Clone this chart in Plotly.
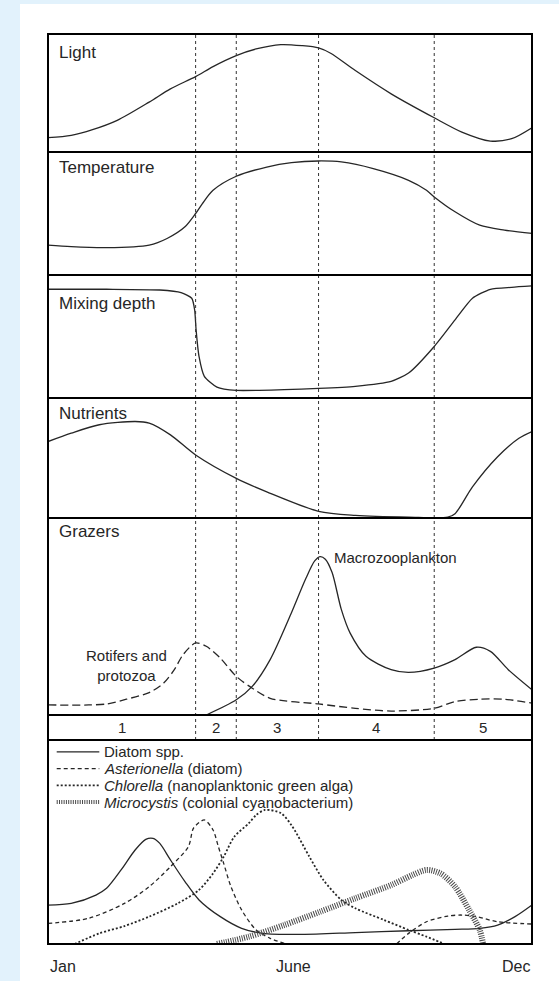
import plotly.graph_objects as go

# ---------------- data (x = % of the year, y = % of panel height) ----------------
light_x = [0, 4.8, 9.2, 14.3, 20.9, 25.3, 30.5, 34.1, 38.9, 43.0, 48.1, 52.5, 55.9, 58.4, 63.5, 70.9, 79.8, 85.5, 91.4, 95.8, 100]
light_y = [12.1, 14.1, 18.9, 26.8, 42.3, 53.5, 63.9, 72.4, 81.7, 87.3, 91.0, 90.1, 88.2, 83.7, 69.0, 49.3, 29.0, 16.9, 9.3, 11.3, 20.6]

temp_x = [0, 4.8, 12.1, 20.9, 24.6, 28.3, 30.5, 31.9, 34.1, 38.9, 45.2, 50.3, 55.9, 60.6, 67.2, 74.5, 78.2, 79.8, 84.1, 89.2, 94.3, 100]
temp_y = [24.3, 23.0, 22.2, 24.3, 29.7, 39.2, 50.0, 58.1, 68.9, 80.3, 87.8, 91.4, 92.7, 91.9, 86.5, 77.0, 68.9, 63.5, 51.4, 40.5, 36.5, 33.8]

mix_x = [0, 12.1, 23.1, 27.5, 29.7, 30.3, 30.6, 31.2, 32.3, 34.9, 38.9, 48.8, 55.9, 63.5, 70.9, 74.5, 79.8, 84.1, 87.7, 91.4, 95.8, 100]
mix_y = [88.4, 88.4, 87.8, 85.7, 81.1, 71.6, 55.4, 33.8, 17.6, 8.9, 6.2, 6.8, 7.8, 9.5, 13.5, 20.3, 41.9, 63.5, 81.1, 88.4, 90.0, 91.1]

nut_x = [0, 4.8, 10.6, 18.0, 20.9, 25.3, 30.5, 38.9, 45.2, 55.9, 63.5, 74.5, 82.6, 84.1, 87.7, 92.9, 97.3, 100]
nut_y = [63.7, 70.7, 77.7, 80.4, 79.1, 69.3, 52.5, 33.0, 21.8, 5.6, 2.2, 0.8, 0.8, 3.6, 26.0, 51.1, 66.5, 72.1]

macro_x = [32.7, 38.9, 42.2, 45.9, 50.3, 53.2, 55.1, 56.2, 57.3, 58.7, 60.6, 62.4, 65.7, 70.9, 74.5, 79.8, 84.1, 88.5, 91.4, 95.1, 100]
macro_y = [0, 7.7, 14.5, 28.1, 51.9, 68.9, 78.2, 80.4, 79.1, 72.3, 53.6, 41.7, 29.8, 23.0, 21.6, 23.8, 28.1, 34.4, 32.3, 23.0, 12.8]

rot_x = [0, 8.4, 12.1, 16.2, 20.9, 23.9, 26.1, 27.9, 30.5, 32.7, 35.6, 38.9, 42.2, 45.9, 55.9, 63.5, 70.9, 79.8, 84.1, 89.2, 94.3, 100]
rot_y = [5.1, 5.1, 5.6, 8.0, 11.4, 16.2, 23.0, 30.6, 36.6, 34.9, 28.9, 19.6, 13.6, 8.5, 5.6, 3.4, 2.0, 3.4, 6.8, 8.0, 8.0, 6.0]

diatom_x = [0, 4.8, 9.9, 12.1, 15.1, 18.0, 20.2, 21.7, 23.1, 25.3, 28.3, 31.2, 35.6, 40.0, 44.4, 52.5, 63.5, 74.5, 84.1, 89.2, 92.9, 96.5, 100]
diatom_y = [19.1, 19.9, 24.0, 27.3, 36.3, 46.1, 51.3, 51.8, 49.3, 41.2, 30.6, 21.6, 13.4, 7.7, 5.2, 4.7, 5.6, 6.5, 7.2, 7.7, 9.3, 13.4, 19.1]

aster_x = [0, 8.4, 15.8, 20.9, 25.3, 29.0, 30.1, 32.3, 34.1, 35.2, 36.3, 37.8, 40.0, 43.0, 45.9, 48.8, None,
           72.0, 74.5, 78.2, 82.6, 85.5, 88.5, 92.9, 100]
aster_y = [10.1, 12.6, 19.9, 28.1, 37.9, 47.7, 56.9, 60.8, 55.9, 47.7, 39.5, 28.1, 16.7, 6.9, 2.8, 0.3, None,
           0, 5.2, 10.9, 13.7, 14.2, 13.4, 10.9, 9.8]

chlor_x = [5.5, 10.6, 15.8, 20.9, 26.8, 31.2, 34.1, 36.3, 38.5, 41.5, 43.0, 44.8, 48.1, 50.5, 54.0, 56.9, 60.6, 63.5, 69.4, 74.5, 78.2, 81.9]
chlor_y = [0, 5.2, 8.8, 13.4, 19.9, 26.5, 34.6, 42.8, 52.6, 59.2, 63.2, 65.7, 64.2, 57.5, 42.8, 31.4, 21.6, 17.5, 11.8, 6.9, 3.6, 0]

micro_x = [34.9, 41.5, 48.8, 56.2, 63.5, 70.9, 75.3, 78.2, 81.1, 84.1, 87.0, 89.2, 89.9]
micro_y = [0, 3.6, 9.3, 15.8, 22.4, 28.9, 33.8, 36.3, 34.6, 28.1, 16.7, 6.9, 0]

panel_labels = ["Light", "Temperature", "Mixing depth", "Nutrients", "Grazers"]
phase_bounds = [0, 30.5, 38.9, 55.9, 79.8, 100]
phase_labels = ["1", "2", "3", "4", "5"]
month_labels = ["Jan", "June", "Dec"]
month_pos = [0, 50.8, 100]
legend_labels = ["Diatom spp.",
                 "<i>Asterionella</i> (diatom)",
                 "<i>Chlorella</i> (nanoplanktonic green alga)",
                 "<i>Microcystis</i> (colonial cyanobacterium)"]

# ---------------- layout geometry ----------------
W, H = 559, 981
ML, MR, MT, MB = 48, 27, 34, 37
PH = H - MT - MB


def py(ypix):
    return (H - MB - ypix) / PH


seps = [MT, 152, 275, 398, 518, 715, 740, H - MB]
domains = [[py(seps[i + 1]), py(seps[i])] for i in range(7)]

INK = "#262626"
FONT = "Liberation Sans, Arial, Helvetica, sans-serif"
BLUE = "#e2f2fc"

fig = go.Figure()


def add_line(x, y, ax, dash="solid", width=1.3, color=INK, smoothing=0.8):
    fig.add_trace(go.Scatter(x=x, y=y, xaxis="x", yaxis=ax, mode="lines",
                             line=dict(color=color, width=width, dash=dash, shape="spline", smoothing=smoothing),
                             connectgaps=False, showlegend=False, hoverinfo="skip"))


add_line(light_x, light_y, "y")
add_line(temp_x, temp_y, "y2")
add_line(mix_x, mix_y, "y3", smoothing=0.6)
add_line(nut_x, nut_y, "y4")
add_line(macro_x, macro_y, "y5")
add_line(rot_x, rot_y, "y5", dash="8px,4px")
add_line(diatom_x, diatom_y, "y7")
add_line(aster_x, aster_y, "y7", dash="4px,3px")
add_line(chlor_x, chlor_y, "y7", dash="2px,2px", width=1.8)
add_line(micro_x, micro_y, "y7", dash="1px,1.3px", width=6, color="#4a4a4a")

# legend samples (bottom panel)
leg_y = [94.2, 86.0, 77.8, 69.6]
leg_styles = [("solid", 1.3, INK), ("4px,3px", 1.3, INK), ("2px,2px", 1.8, INK), ("1px,1.3px", 4, "#4a4a4a")]
for yy, (d, w, c), lab in zip(leg_y, leg_styles, legend_labels):
    fig.add_trace(go.Scatter(x=[1.8, 10.6], y=[yy, yy], xaxis="x", yaxis="y7", mode="lines",
                             line=dict(color=c, width=w, dash=d), showlegend=False, hoverinfo="skip"))
    fig.add_annotation(x=11.4, y=yy, xref="x", yref="y7", text=lab, showarrow=False,
                       xanchor="left", yanchor="middle", borderpad=0,
                       font=dict(size=15, color=INK, family=FONT))

# axes
layout_axes = {}
names = ["yaxis", "yaxis2", "yaxis3", "yaxis4", "yaxis5", "yaxis6", "yaxis7"]
for n, dom in zip(names, domains):
    layout_axes[n] = dict(domain=dom, range=[0, 100], visible=False, fixedrange=True, anchor="x")

fig.update_layout(
    width=W, height=H,
    margin=dict(l=ML, r=MR, t=MT, b=MB),
    paper_bgcolor=BLUE, plot_bgcolor="white",
    xaxis=dict(range=[0, 100], visible=False, anchor="y7", fixedrange=True),
    showlegend=False,
    **layout_axes,
)

# white page area
fig.add_shape(type="rect", xref="paper", yref="paper",
              x0=(20 - ML) / (W - ML - MR), x1=(W - ML) / (W - ML - MR) + 0.01,
              y0=py(H) - 0.01, y1=py(4), fillcolor="white", line=dict(width=0), layer="below")

# vertical phase lines
for b in phase_bounds[1:-1]:
    fig.add_shape(type="line", xref="x", yref="paper", x0=b, x1=b, y0=domains[5][0], y1=1,
                  line=dict(color="#333", width=1, dash="3px,3px"))

# panel separators and frame
for s in seps[1:-1]:
    fig.add_shape(type="line", xref="paper", yref="paper", x0=0, x1=1, y0=py(s), y1=py(s),
                  line=dict(color="black", width=2))
fig.add_shape(type="rect", xref="paper", yref="paper", x0=0, x1=1, y0=0, y1=1,
              line=dict(color="black", width=2))

# panel labels
label_y = [84.7, 87.5, 77, 87, 93]
for lab, yy, ax in zip(panel_labels, label_y, ["y", "y2", "y3", "y4", "y5"]):
    fig.add_annotation(x=1.8, y=yy, xref="x", yref=ax, text=lab, showarrow=False,
                       xanchor="left", yanchor="middle", font=dict(size=17, color=INK, family=FONT))

# grazer labels
fig.add_annotation(x=58.7, y=80, xref="x", yref="y5", text="Macrozooplankton", showarrow=False,
                   xanchor="left", yanchor="middle", font=dict(size=15, color=INK, family=FONT))
fig.add_annotation(x=16.3, y=25.2, xref="x", yref="y5", text="Rotifers and<br>protozoa", showarrow=False,
                   xanchor="center", yanchor="middle", align="center",
                   font=dict(size=15, color=INK, family=FONT))

# phase numbers
for i, lab in enumerate(phase_labels):
    fig.add_annotation(x=(phase_bounds[i] + phase_bounds[i + 1]) / 2, y=50, xref="x", yref="y6",
                       text=lab, showarrow=False, xanchor="center", yanchor="middle",
                       font=dict(size=15, color=INK, family=FONT))

# month labels
anchors = ["left", "center", "right"]
for lab, pos, anc in zip(month_labels, month_pos, anchors):
    fig.add_annotation(x=pos, y=py(967), xref="x", yref="paper", text=lab, showarrow=False,
                       xanchor=anc, yanchor="middle", font=dict(size=16, color=INK, family=FONT))

fig.write_html(
    "out.html",
    config={"displayModeBar": False},
    post_script=("document.documentElement.style.margin='0';document.body.style.margin='0';"
                 "document.body.style.padding='0';document.body.style.overflow='hidden';"
                 "document.body.style.background='" + BLUE + "';"),
)
